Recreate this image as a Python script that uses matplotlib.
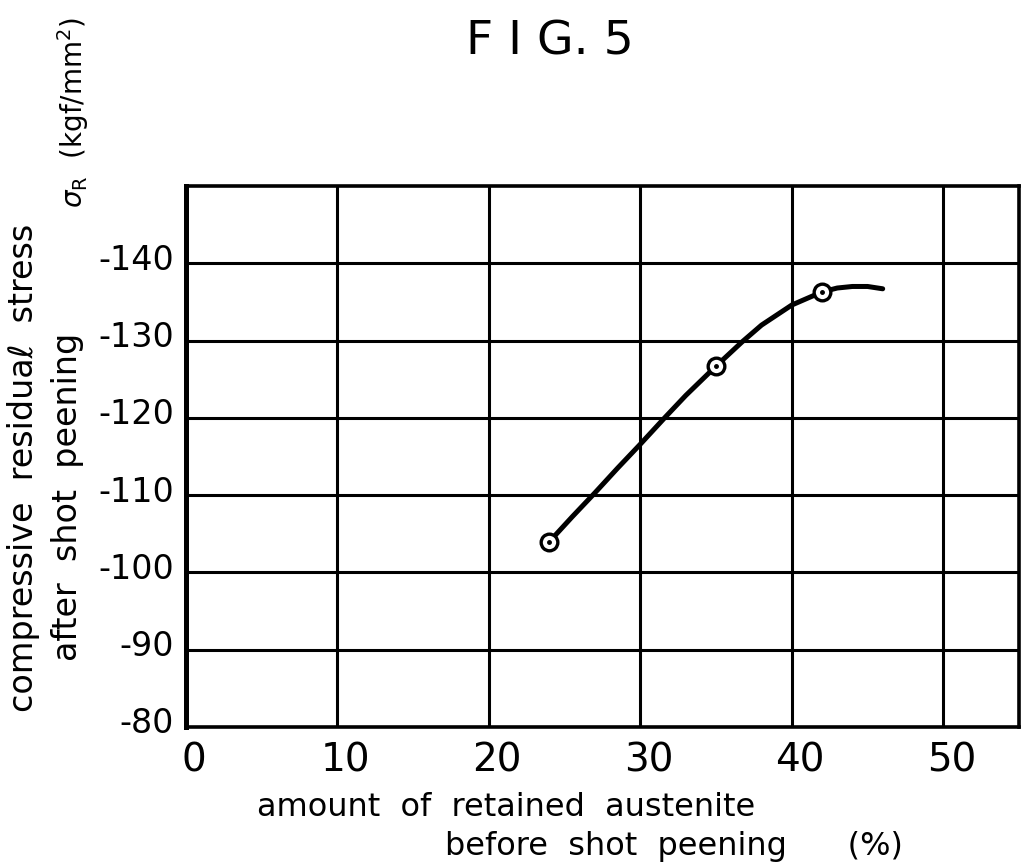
import matplotlib
matplotlib.use("Agg")
import matplotlib.pyplot as plt

# ---- data ----
marker_x = [24, 35, 42]
marker_y = [-104, -126.7, -136.3]
curve_x = [24, 25.5, 27, 28.5, 30, 31.6, 33, 35, 36.7, 38, 40, 42, 43, 44, 45, 46]
curve_y = [-104, -107.2, -110.3, -113.5, -116.6, -120, -122.9, -126.7, -129.8, -132.0,
           -134.6, -136.3, -136.8, -137.0, -137.0, -136.7]
x_ticks = [0, 10, 20, 30, 40, 50]
x_ticklabels = ["0", "10", "20", "30", "40", "50"]
y_ticks = [-140, -130, -120, -110, -100, -90, -80]
y_ticklabels = ["-140", "-130", "-120", "-110", "-100", "-90", "-80"]
title_text = "F I G. 5"
xlabel_line1 = "amount  of  retained  austenite"
xlabel_line2 = "before  shot  peening      (%)"
ylabel_line1 = "compressive  residuaℓ  stress"
ylabel_line2 = "after  shot  peening"
unit_text = r"$\sigma_{\mathrm{R}}$  (kgf/mm$^{2}$)"

W, H = 1021, 866
fig = plt.figure(figsize=(W / 100, H / 100), dpi=100)
fig.patch.set_facecolor("white")

def fx(px):
    return px / W

def fy(py):
    return 1 - py / H

left, right, top, bottom = 186, 1019, 186, 727
ax = fig.add_axes([fx(left), fy(bottom), fx(right - left), (bottom - top) / H])
ax.set_xlim(0, 55)
ax.set_ylim(-80, -150)

# grid
for gx in range(10, 55, 10):
    ax.axvline(gx, color="black", lw=2.2, zorder=1)
for gy in range(-140, -80, 10):
    ax.axhline(gy, color="black", lw=2.2, zorder=1)

for side in ["top", "right", "bottom"]:
    ax.spines[side].set_linewidth(2.6)
ax.spines["left"].set_linewidth(3.6)

ax.tick_params(length=0)
ax.set_xticks([])
ax.set_yticks([])

# curve and markers
ax.plot(curve_x, curve_y, color="black", lw=3.6, solid_capstyle="round",
        solid_joinstyle="round", zorder=3)
ax.plot(marker_x, marker_y, linestyle="none", marker="o", markersize=12,
        markerfacecolor="white", markeredgecolor="black", markeredgewidth=2.4,
        zorder=4)
ax.plot(marker_x, marker_y, linestyle="none", marker="o", markersize=2.5,
        color="black", zorder=5)

# tick labels as text (hand-lettered look)
for v, lab in zip(x_ticks, x_ticklabels):
    ax.annotate(lab, xy=(v, -80), xycoords="data", xytext=(8, -34),
                textcoords="offset pixels", ha="center", va="center",
                fontsize=28, family="DejaVu Sans")
for v, lab in zip(y_ticks, y_ticklabels):
    ax.annotate(lab, xy=(0, v), xycoords="data", xytext=(-12, 3),
                textcoords="offset pixels", ha="right", va="center",
                fontsize=24, family="DejaVu Sans")

# title
fig.text(fx(550), fy(42), title_text, ha="center", va="center", fontsize=34,
         family="DejaVu Sans")

# x label
fig.text(fx(257), fy(808), xlabel_line1, ha="left", va="center", fontsize=23,
         family="DejaVu Sans")
fig.text(fx(445), fy(846), xlabel_line2, ha="left", va="center", fontsize=23,
         family="DejaVu Sans")

# y label
fig.text(fx(24), fy(468), ylabel_line1, ha="center", va="center", rotation=90,
         fontsize=24, family="DejaVu Sans")
fig.text(fx(68), fy(497), ylabel_line2, ha="center", va="center", rotation=90,
         fontsize=24, family="DejaVu Sans")
fig.text(fx(73), fy(112), unit_text, ha="center", va="center", rotation=90,
         fontsize=20, family="DejaVu Sans")

fig.savefig("out.png", dpi=100, facecolor="white")
